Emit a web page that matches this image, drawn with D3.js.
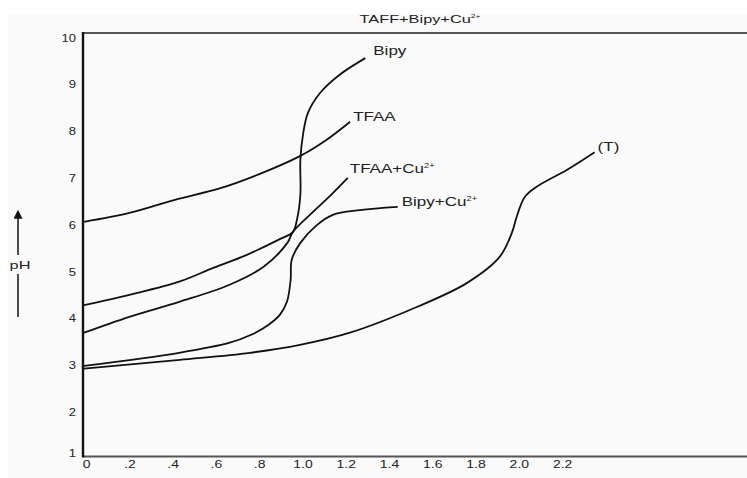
<!DOCTYPE html>
<html>
<head>
<meta charset="utf-8">
<script src="https://cdn.jsdelivr.net/npm/d3@7"></script>
<style>
  html, body { margin: 0; padding: 0; background: #ffffff; }
  svg { display: block; }
  text { font-family: "Liberation Sans", Arial, Helvetica, sans-serif; fill: #222; }
</style>
</head>
<body>
<svg id="chart" width="747" height="478"></svg>
<script>
// ---- data ----
const title = "TAFF+Bipy+Cu";
const titleSup = "2+";
const xTicks = [0, 0.2, 0.4, 0.6, 0.8, 1.0, 1.2, 1.4, 1.6, 1.8, 2.0, 2.2];
const xTickLabels = ["0", ".2", ".4", ".6", ".8", "1.0", "1.2", "1.4", "1.6", "1.8", "2.0", "2.2"];
const yTicks = [1, 2, 3, 4, 5, 6, 7, 8, 9, 10];
const yLabel = "pH";

const seriesNames = ["Bipy", "TFAA", "TFAA+Cu", "Bipy+Cu", "(T)"];
const seriesSup = ["", "", "2+", "2+", ""];

const bipy = [[0,4.29],[0.21,4.51],[0.44,4.79],[0.60,5.09],[0.75,5.36],[0.905,5.70],[0.965,5.85],[0.984,6.11],[1.0,6.65],[1.0,7.39],[1.012,7.93],[1.035,8.40],[1.09,8.82],[1.18,9.21],[1.30,9.57]];
const tfaa = [[0,6.07],[0.21,6.26],[0.42,6.54],[0.63,6.79],[0.81,7.09],[1.0,7.48],[1.12,7.82],[1.23,8.21]];
const tfaaCu = [[0,3.70],[0.21,4.04],[0.44,4.36],[0.67,4.72],[0.83,5.11],[0.94,5.62],[0.965,5.85],[1.044,6.22],[1.136,6.62],[1.219,7.01]];
const bipyCu = [[0,2.99],[0.44,3.27],[0.67,3.48],[0.77,3.65],[0.85,3.86],[0.905,4.08],[0.938,4.36],[0.955,4.83],[0.96,5.26],[1.0,5.62],[1.076,6.0],[1.15,6.22],[1.275,6.32],[1.45,6.39]];
const tCurve = [[0,2.93],[0.443,3.12],[0.767,3.27],[0.998,3.44],[1.229,3.70],[1.538,4.25],[1.769,4.76],[1.921,5.32],[1.977,5.83],[2.0,6.18],[2.037,6.60],[2.092,6.82],[2.231,7.18],[2.36,7.56]];

const seriesData = [bipy, tfaa, tfaaCu, bipyCu, tCurve];
const labelOffsets = [[8,-3],[3,-1],[2,-5],[4,-1],[3,-1]];

// ---- layout ----
const W = 747, H = 478;
const axisX = 83, plotTop = 33, plotBottom = 456.5;
const SX = 1.42; // horizontal stretch of the lettering in the reference

const svg = d3.select("#chart");

function stretch(sel, k) {
  sel.each(function () {
    const t = d3.select(this);
    const tx = +t.attr("x") || 0, ty = +t.attr("y") || 0;
    t.attr("x", 0).attr("y", 0).attr("transform", `translate(${tx},${ty}) scale(${k},1)`);
  });
}

svg.append("rect").attr("x", 8).attr("y", 14).attr("width", W - 8).attr("height", H - 14).attr("fill", "#fafafa");

const x = d3.scaleLinear().domain([0, 2.2]).range([84, 560]);
const y = d3.scaleLinear().domain([1, 10]).range([459, 38]);

// title
const t = svg.append("text").attr("x", 420).attr("y", 23).attr("text-anchor", "middle").attr("font-size", 11.5).text(title);
t.append("tspan").attr("font-size", 6).attr("dy", -5).text(titleSup);
stretch(t, SX);

// frame lines
svg.append("line").attr("x1", axisX).attr("x2", W).attr("y1", plotTop).attr("y2", plotTop)
  .attr("stroke", "#555").attr("stroke-width", 2);
svg.append("line").attr("x1", axisX).attr("x2", W).attr("y1", plotBottom).attr("y2", plotBottom)
  .attr("stroke", "#555").attr("stroke-width", 2);

// y axis
const yAxis = svg.append("g").attr("transform", `translate(${axisX},0)`)
  .call(d3.axisLeft(y).tickValues(yTicks).tickSize(0).tickPadding(7).tickFormat(d3.format("d")));
yAxis.select(".domain").remove();
yAxis.selectAll("text").attr("font-size", 10).attr("fill", "#222").style("font-family", "Liberation Sans, Arial, sans-serif");
yAxis.selectAll(".tick").filter(d => d === 1).select("text").attr("dy", "-0.3em");
stretch(yAxis.selectAll("text"), 1.3);

// x axis
const xAxis = svg.append("g").attr("transform", `translate(0,${plotBottom})`)
  .call(d3.axisBottom(x).tickValues(xTicks).tickSize(0).tickPadding(4).tickFormat((d, i) => xTickLabels[i]));
xAxis.select(".domain").remove();
xAxis.selectAll("text").attr("font-size", 10).attr("fill", "#222").attr("dx", 1.5).style("font-family", "Liberation Sans, Arial, sans-serif");
stretch(xAxis.selectAll("text"), 1.4);

svg.append("line").attr("x1", axisX).attr("x2", axisX).attr("y1", plotTop - 1).attr("y2", plotBottom + 1)
  .attr("stroke", "#111").attr("stroke-width", 2.4);

// y label with arrow
svg.append("defs").append("marker").attr("id", "arr").attr("viewBox", "0 0 10 10")
  .attr("refX", 2).attr("refY", 5).attr("markerWidth", 6).attr("markerHeight", 6).attr("orient", "auto")
  .append("path").attr("d", "M0,0 L10,5 L0,10 Z").attr("fill", "#111");
svg.append("line").attr("x1", 18).attr("x2", 18).attr("y1", 255).attr("y2", 217)
  .attr("stroke", "#111").attr("stroke-width", 1.5).attr("marker-end", "url(#arr)");
svg.append("line").attr("x1", 18).attr("x2", 18).attr("y1", 274).attr("y2", 317)
  .attr("stroke", "#111").attr("stroke-width", 1.5);
const yl = svg.append("text").attr("x", 20).attr("y", 269).attr("text-anchor", "middle").attr("font-size", 11.5).text(yLabel);
stretch(yl, SX);

// curves
const line = d3.line().x(d => x(d[0])).y(d => y(d[1])).curve(d3.curveCatmullRom.alpha(0.5));
svg.append("g").selectAll("path").data(seriesData).join("path")
  .attr("d", line).attr("fill", "none").attr("stroke", "#111").attr("stroke-width", 1.8);

// curve labels
seriesData.forEach((s, i) => {
  const last = s[s.length - 1];
  const tx = svg.append("text").attr("x", x(last[0]) + labelOffsets[i][0]).attr("y", y(last[1]) + labelOffsets[i][1])
    .attr("font-size", 12).text(seriesNames[i]);
  if (seriesSup[i]) tx.append("tspan").attr("font-size", 6.5).attr("dy", -5).text(seriesSup[i]);
  stretch(tx, SX);
});
</script>
</body>
</html>
